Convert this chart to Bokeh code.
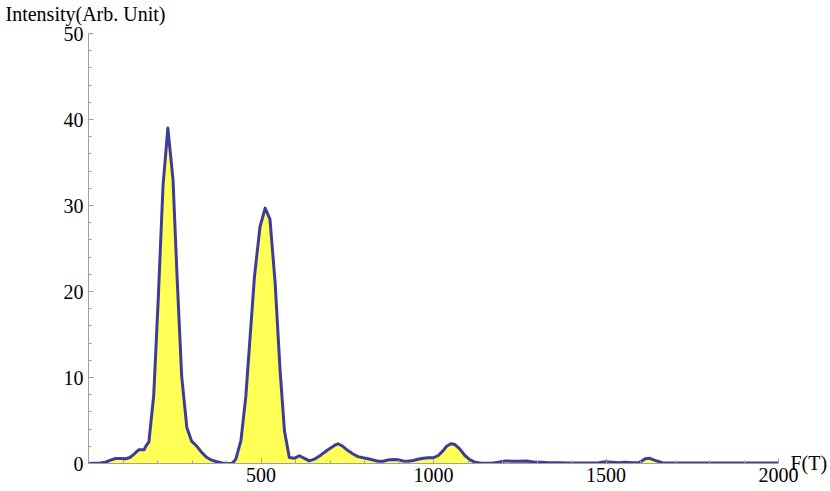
from bokeh.plotting import figure
from bokeh.models import FixedTicker, Label, Range1d
from bokeh.embed import file_html
from bokeh.resources import INLINE

# Frequency (T) and intensity (arb. unit)
freq = [0, 15, 30, 49, 64, 78, 93, 108, 120, 132, 146, 161, 169, 175, 189, 202,
        216, 230, 245, 257, 270, 285, 299, 314, 328, 343, 357, 372, 387, 401, 416,
        427, 442, 456, 468, 481, 497, 512, 526, 541, 555, 568, 582, 597, 611, 626,
        640, 655, 674, 694, 713, 723, 737, 752, 767, 781, 796, 810, 825, 839, 854,
        868, 883, 897, 912, 926, 941, 955, 970, 985, 999, 1014, 1028, 1038, 1050,
        1062, 1076, 1091, 1106, 1120, 1140, 1169, 1188, 1207, 1227, 1246, 1270,
        1294, 1314, 1333, 1362, 1391, 1420, 1450, 1479, 1498, 1517, 1537, 1556,
        1575, 1595, 1614, 1627, 1640, 1663, 1700, 1750, 1800, 1850, 1900, 1950, 2000]
intensity = [0, 0.02, 0.04, 0.15, 0.4, 0.58, 0.58, 0.55, 0.7, 1.1, 1.6, 1.6, 2.2,
             2.5, 7.9, 19.0, 32.3, 39.0, 33.0, 21.5, 10.2, 4.2, 2.6, 2.0, 1.3, 0.7,
             0.4, 0.2, 0.05, 0.0, 0.0, 0.5, 2.7, 7.8, 14.5, 21.7, 27.5, 29.7, 28.4,
             21.0, 11.0, 3.8, 0.7, 0.6, 0.9, 0.6, 0.3, 0.5, 1.0, 1.6, 2.1, 2.3, 2.0,
             1.5, 1.1, 0.8, 0.66, 0.55, 0.4, 0.27, 0.27, 0.4, 0.46, 0.43, 0.3, 0.27,
             0.35, 0.5, 0.62, 0.66, 0.66, 0.93, 1.5, 2.0, 2.3, 2.2, 1.7, 0.93, 0.43,
             0.15, 0.04, 0.04, 0.15, 0.3, 0.27, 0.27, 0.3, 0.15, 0.15, 0.08, 0.1,
             0.05, 0.05, 0.05, 0.1, 0.2, 0.15, 0.08, 0.15, 0.08, 0.08, 0.55, 0.6,
             0.4, 0.1, 0.05, 0.05, 0.05, 0.05, 0.05, 0.05, 0.05]

x_major = [500, 1000, 1500, 2000]
x_minor = [100, 200, 300, 400, 600, 700, 800, 900, 1100, 1200, 1300, 1400,
           1600, 1700, 1800, 1900]
y_major = [0, 10, 20, 30, 40, 50]
y_minor = [2, 4, 6, 8, 12, 14, 16, 18, 22, 24, 26, 28, 32, 34, 36, 38, 42, 44, 46, 48]

y_label = "Intensity(Arb. Unit)"
x_label = "F(T)"

FONT = "Liberation Serif"
AXIS_GRAY = "#a0a0a0"

p = figure(width=830, height=491, output_backend="svg", toolbar_location=None,
           x_range=Range1d(0, 2000), y_range=Range1d(0, 50),
           min_border_left=88, min_border_right=52, min_border_top=33,
           min_border_bottom=28)
p.outline_line_color = None
p.grid.visible = False
p.background_fill_color = "white"

p.varea(x=freq, y1=0, y2=intensity, fill_color="#FFFF55", fill_alpha=1.0)
p.line(x=freq, y=intensity, line_color="#3D3D99", line_width=3,
       line_join="round")

p.xaxis.ticker = FixedTicker(ticks=x_major, minor_ticks=x_minor)
p.yaxis.ticker = FixedTicker(ticks=y_major, minor_ticks=y_minor)

for ax in (p.xaxis[0], p.yaxis[0]):
    ax.axis_line_color = AXIS_GRAY
    ax.major_tick_line_color = AXIS_GRAY
    ax.minor_tick_line_color = AXIS_GRAY
    ax.major_tick_in = 5
    ax.major_tick_out = 0
    ax.minor_tick_in = 3
    ax.minor_tick_out = 0
    ax.major_label_text_font = FONT
    ax.major_label_text_font_size = "20px"
    ax.major_label_text_color = "black"

p.xaxis.major_label_standoff = 4
p.yaxis.major_label_standoff = 5

p.add_layout(Label(x=0, y=50, text=y_label, text_align="center",
                   text_baseline="bottom", x_offset=-3, y_offset=9,
                   text_font=FONT, text_font_size="20px", text_color="black"),
             "above")
p.add_layout(Label(x=2000, y=0, text=x_label, text_align="left",
                   text_baseline="middle", x_offset=12, y_offset=1,
                   text_font=FONT, text_font_size="20px", text_color="black"),
             "right")

open("out.html", "w").write(file_html(p, INLINE))
